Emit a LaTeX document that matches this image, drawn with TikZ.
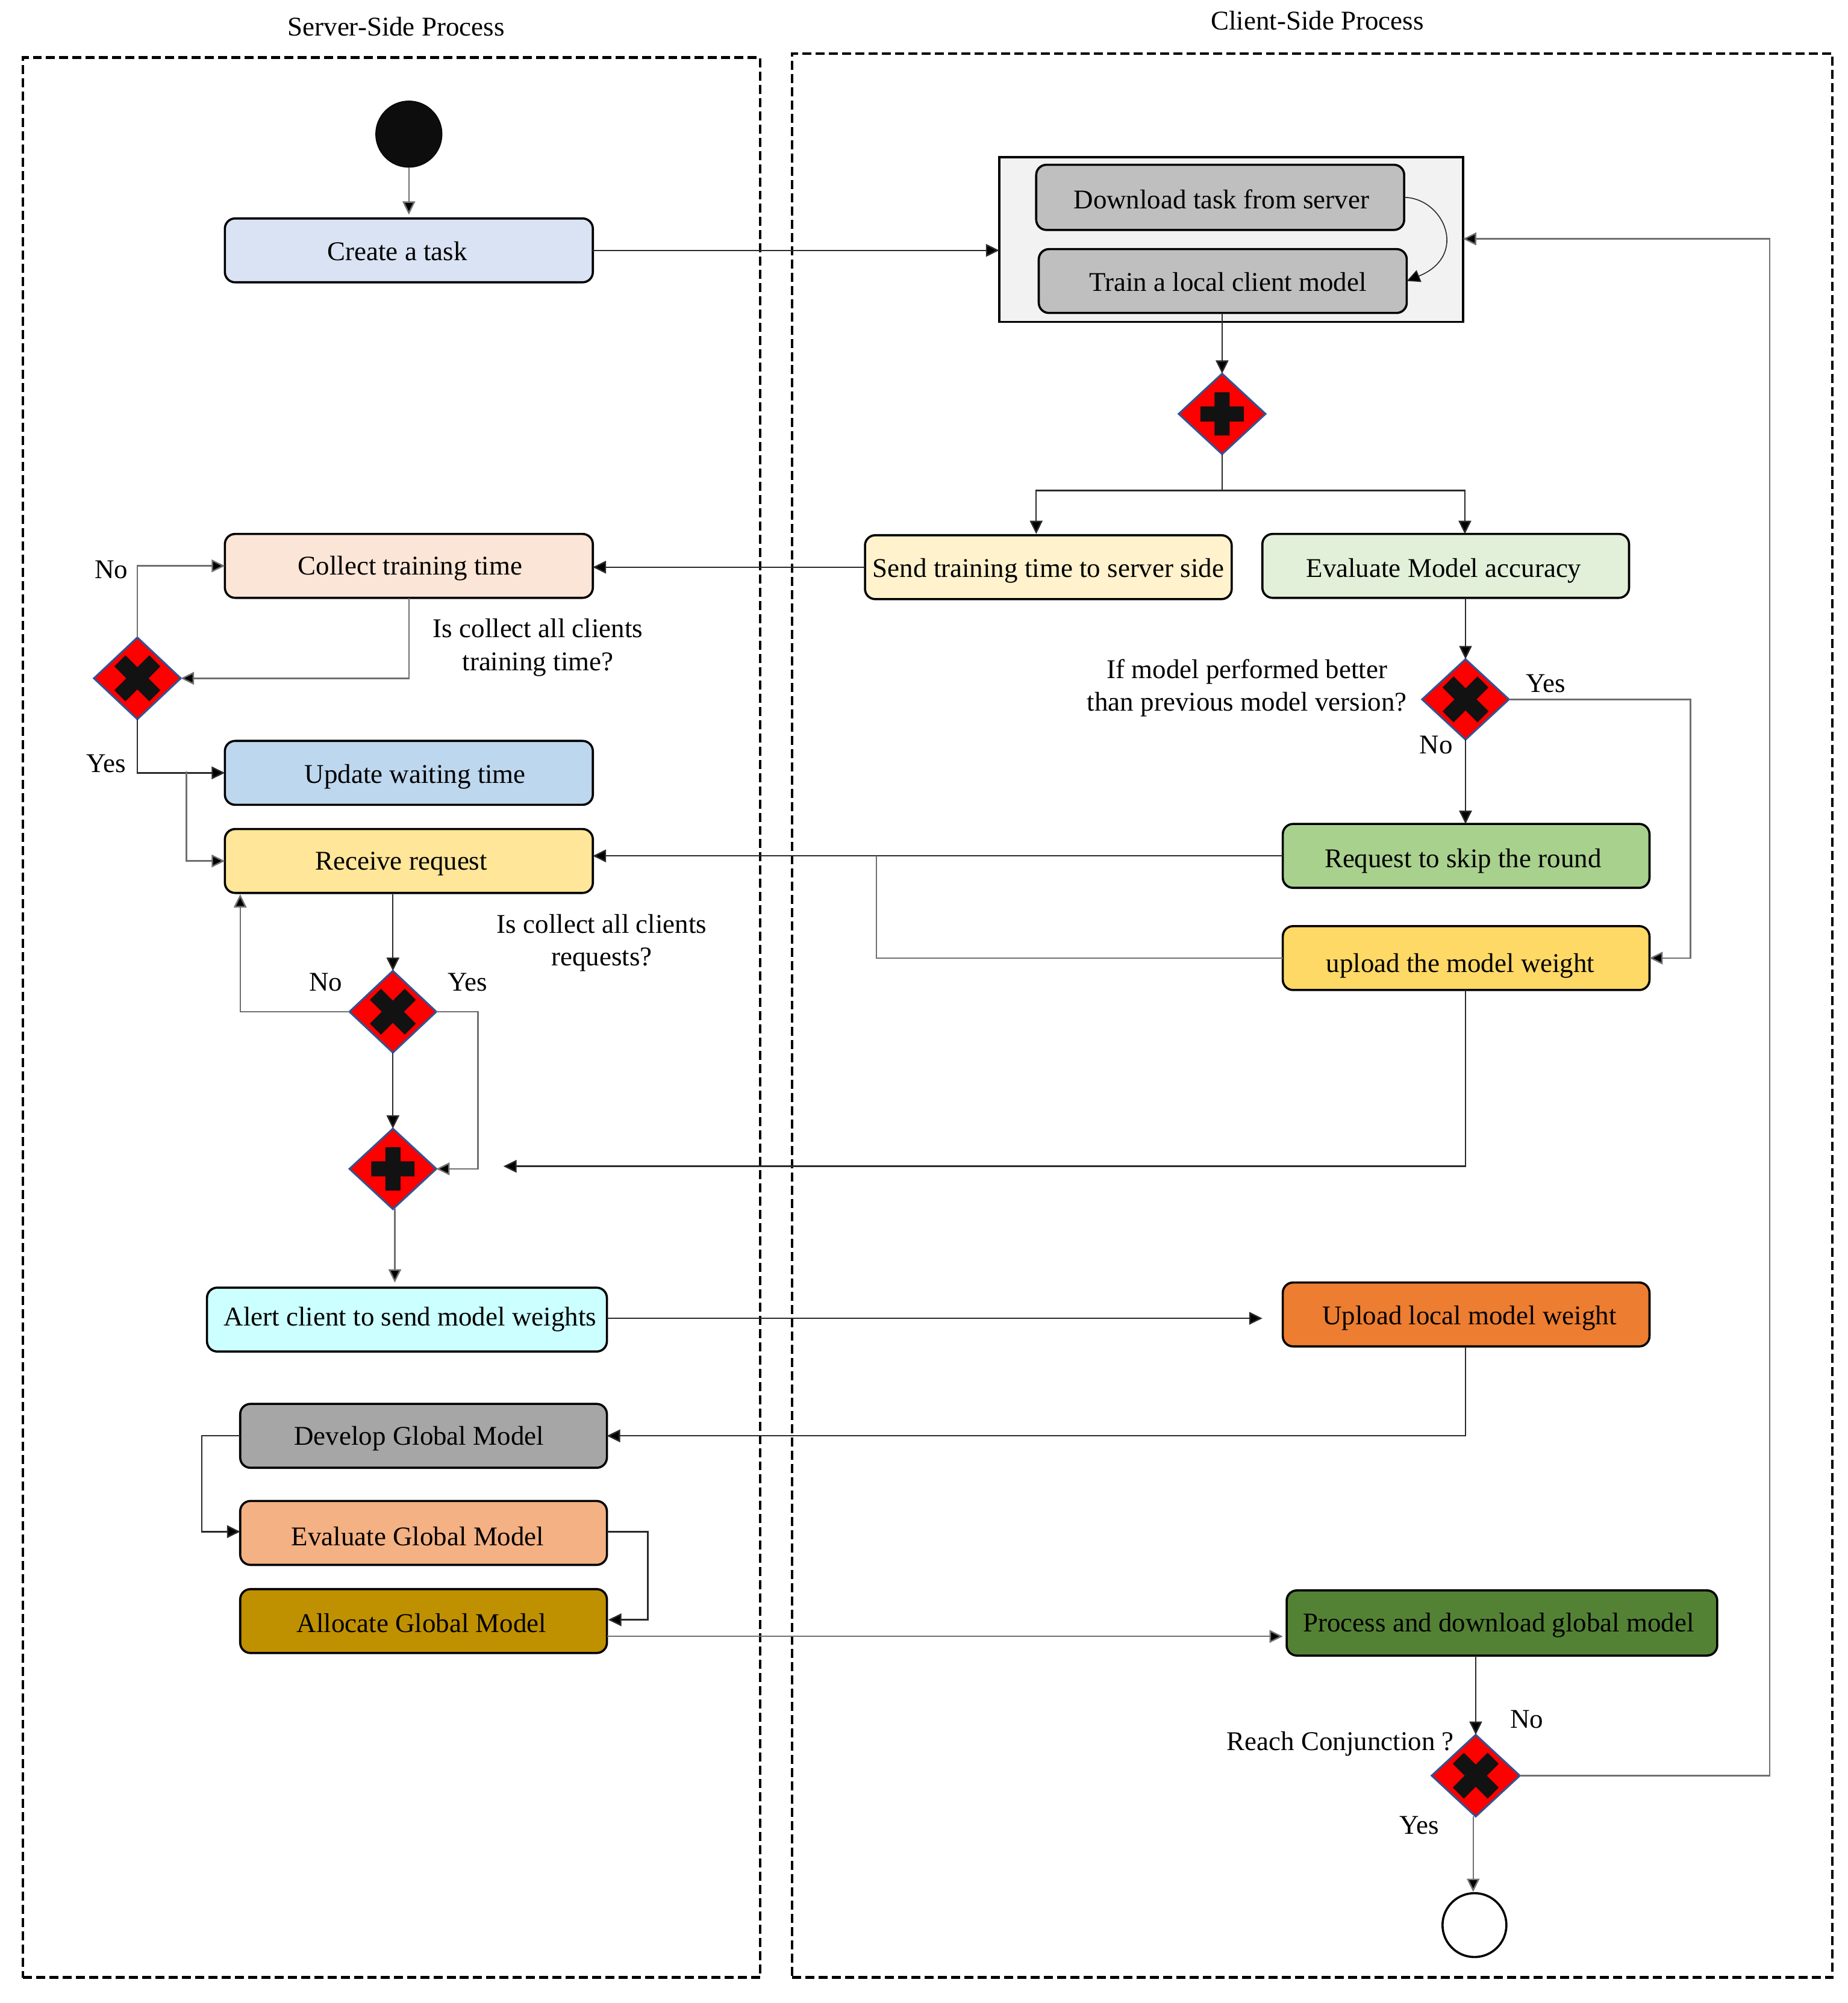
\documentclass[tikz,border=0pt]{standalone}
\usepackage{fontspec}
\setmainfont{Liberation Serif}
\usetikzlibrary{shapes.geometric,arrows.meta,calc}
\definecolor{conn}{HTML}{2A2A2A}
\definecolor{connlight}{HTML}{707070}
\definecolor{gateline}{HTML}{2F5597}
\definecolor{cgrey}{HTML}{BFBFBF}
\definecolor{ccreate}{HTML}{DAE3F3}
\definecolor{csend}{HTML}{FFF2CC}
\definecolor{ceval}{HTML}{E2F0D9}
\definecolor{ccollect}{HTML}{FBE5D6}
\definecolor{cupdate}{HTML}{BDD7EE}
\definecolor{creceive}{HTML}{FFE699}
\definecolor{cskip}{HTML}{A9D18E}
\definecolor{cweight}{HTML}{FFD966}
\definecolor{calert}{HTML}{CCFFFF}
\definecolor{clocal}{HTML}{ED7D31}
\definecolor{cdevelop}{HTML}{A6A6A6}
\definecolor{cevalg}{HTML}{F4B183}
\definecolor{calloc}{HTML}{BF9000}
\definecolor{cprocess}{HTML}{548235}
\newlength{\ux}\setlength{\ux}{2.1232pt}
\newcommand{\sh}[3]{\kern#1\dimexpr 2\ux\relax\raisebox{\dimexpr-#2\ux-1.8\ux\relax}[0pt][0pt]{#3}}
\tikzset{
  sized/.style 2 args={minimum width=#1*2.1232pt,minimum height=#2*2.1232pt},
  box/.style={draw=black,line width=3.6pt,rounded corners=17pt,fill=#1,inner sep=0pt,outer sep=0pt,
    text height=32pt,text depth=10pt,font=\fontsize{45}{54}\selectfont},
  panel/.style={draw=black,line width=4.5pt,dash pattern=on 15pt off 7pt,inner sep=0pt,outer sep=0pt},
  gate/.style={diamond,draw=gateline,line width=3pt,fill=red,inner sep=0pt,outer sep=0pt},
  lab/.style={inner sep=0pt,align=center,font=\fontsize{45}{54.5}\selectfont},
  line/.style={draw=conn,line width=2.4pt,-{Triangle[length=22pt,width=21pt,fill=black]}},
  plain/.style={draw=conn,line width=2.4pt},
  pale/.style={draw=connlight,line width=2.4pt,-{Triangle[length=22pt,width=21pt,fill=black]}},
  plusmark/.pic={\fill[black!93] (-36pt,-12.5pt) rectangle (36pt,12.5pt) (-12.5pt,-36pt) rectangle (12.5pt,36pt);},
  crossmark/.pic={\fill[black!93,rotate=45] (-41pt,-13pt) rectangle (41pt,13pt) (-13pt,-41pt) rectangle (13pt,41pt);}
}
\begin{document}
\begin{tikzpicture}[x=2.1232pt,y=-2.1232pt]
\useasboundingbox (0,0) rectangle (1446,1568);
\fill[white] (0,0) rectangle (1446,1568);
% panels
\node[panel,sized={577}{1503}] (serverpanel) at (306.5,796.5) {};
\node[panel,sized={814}{1506}] (clientpanel) at (1027,795) {};
\node[lab] (servertitle) at (310,21) {Server-Side Process};
\node[lab] (clienttitle) at (1031,16) {Client-Side Process};
% terminals
\node[circle,fill=black!95,draw=black,line width=1pt,minimum size=52*2.1232pt,inner sep=0pt,outer sep=0pt] (start) at (320,105) {};
\node[circle,fill=white,draw=black,line width=3.6pt,minimum size=50*2.1232pt,inner sep=0pt,outer sep=0pt] (stop) at (1154,1507) {};
% container
\node[draw=black,line width=3.6pt,fill=black!5,sized={363}{129},inner sep=0pt,outer sep=0pt] (container) at (963.5,187.5) {};
% boxes
\node[box=cgrey,sized={288}{51}] (download) at (955,154.5) {\sh{1}{2}{Download task from server}};
\node[box=cgrey,sized={288}{50}] (train) at (957,220) {\sh{4}{1}{Train a local client model}};
\node[box=ccreate,sized={288}{50}] (create) at (320,196) {\sh{-9}{1}{Create a task}};
\node[box=csend,sized={287}{50}] (send) at (820.5,444) {\sh{0}{1}{Send training time to server side}};
\node[box=ceval,sized={287}{50}] (evalmodel) at (1131.5,443) {\sh{-1.5}{2}{Evaluate Model accuracy}};
\node[box=ccollect,sized={288}{50}] (collect) at (320,443) {\sh{1}{0}{Collect training time}};
\node[box=cupdate,sized={288}{50}] (update) at (320,605) {\sh{5}{1}{Update waiting time}};
\node[box=creceive,sized={288}{50}] (receive) at (320,674) {\sh{-6}{0}{Receive request}};
\node[box=cskip,sized={287}{50}] (skip) at (1147.5,670) {\sh{-2.5}{2}{Request to skip the round}};
\node[box=cweight,sized={287}{50}] (uploadweight) at (1147.5,750) {\sh{-4.5}{4}{upload the model weight}};
\node[box=calert,sized={313}{50}] (alert) at (318.5,1033) {\sh{2.5}{-2}{Alert client to send model weights}};
\node[box=clocal,sized={287}{50}] (uploadlocal) at (1147.5,1029) {\sh{2.5}{1}{Upload local model weight}};
\node[box=cdevelop,sized={287}{50}] (develop) at (331.5,1124) {\sh{-3.5}{0}{Develop Global Model}};
\node[box=cevalg,sized={287}{50}] (evalglobal) at (331.5,1200) {\sh{-4.5}{3}{Evaluate Global Model}};
\node[box=calloc,sized={287}{50}] (allocate) at (331.5,1269) {\sh{-1.5}{2}{Allocate Global Model}};
\node[box=cprocess,sized={337}{51}] (process) at (1175.5,1270.5) {\sh{-2.5}{0}{Process and download global model}};
% gateways
\node[gate,sized={68}{63}] (plusa) at (956.5,324) {};
\node[gate,sized={68}{64}] (crossa) at (107.5,531) {};
\node[gate,sized={68}{63}] (crossb) at (1147,547.5) {};
\node[gate,sized={68}{64}] (crossc) at (307.5,792) {};
\node[gate,sized={68}{63}] (plusb) at (307.5,915) {};
\node[gate,sized={69}{64}] (crossd) at (1155,1390) {};
\pic at (plusa) {plusmark};
\pic at (plusb) {plusmark};
\pic at (crossa) {crossmark};
\pic at (crossb) {crossmark};
\pic at (crossc) {crossmark};
\pic at (crossd) {crossmark};
% free ends
\coordinate (branch) at (146,604);
\coordinate (freetip) at (394,913);
\coordinate (alerttip) at (988,1032);
\coordinate (alertout) at (475,1032);
\coordinate (alloctip) at (1004,1281);
\coordinate (allocout) at (475,1281);
\coordinate (splitpt) at (956.5,384);
\coordinate (sendin) at (811,418);
\coordinate (evalin) at (1146.5,418);
\coordinate (merge) at (686,670);
\coordinate (containerin) at (1145,187);
\coordinate (returnright) at (1385,1390);
\coordinate (returntop) at (1385,187);
\coordinate (yesright) at (1323,547.5);
\coordinate (yesdown) at (1323,750);
\coordinate (crossoutr) at (374,792);
\coordinate (crossoutb) at (374,915);
\coordinate (nocorner) at (188,792);
\coordinate (notip) at (188,700);
\coordinate (devl) at (158,1124);
\coordinate (devb) at (158,1199);
\coordinate (evalin2) at (188,1199);
\coordinate (evalout) at (475,1199);
\coordinate (evalr) at (507,1199);
\coordinate (allocr) at (507,1268);
\coordinate (allocin) at (476,1268);
\coordinate (starttip) at (320,168);
\coordinate (recvout) at (307.5,700);
\coordinate (alertin) at (309,1004);
\coordinate (plusout) at (309,946);
\coordinate (stopout) at (1153,1422);
\coordinate (stopin) at (1153,1481);
% connectors
\draw[pale] (start) -- (starttip);
\draw[line] (create.east) -- (create.east -| container.west);
\draw[line,line width=1.6pt] (download.east) .. controls (1130,155) and (1150,200) .. (train.east);
\draw[line] (train.south -| plusa) -- (plusa.north);
\draw[plain] (plusa.south) -- (splitpt);
\draw[line] (splitpt) -| (sendin);
\draw[line] (splitpt) -| (evalin);
\draw[line] (send.west) -- (send.west -| collect.east);
\draw[pale] (collect.south) |- (crossa.east);
\draw[pale] (crossa.north) |- (collect.west);
\draw[line] (crossa.south) |- (update.west);
\draw[pale] (branch) |- (receive.west);
\draw[line] (recvout) -- (crossc.north);
\draw[pale] (crossc.west) -- (nocorner) -- (notip);
\draw[pale] (crossc.east) -- (crossoutr) -- (crossoutb) -- (plusb.east);
\draw[line] (crossc.south) -- (plusb.north);
\draw[pale] (plusout) -- (alertin);
\draw[line] (alertout) -- (alerttip);
\draw[line] (evalmodel.south -| crossb) -- (crossb.north);
\draw[line] (crossb.south) -- (skip.north -| crossb);
\draw[pale] (crossb.east) -- (yesright) -- (yesdown) -- (uploadweight.east);
\draw[line] (skip.west) -- (skip.west -| receive.east);
\draw[plain,draw=connlight] (uploadweight.west) -| (merge);
\draw[line] (uploadweight.south -| crossb) |- (freetip);
\draw[line] (uploadlocal.south -| crossb) |- (develop.east);
\draw[line] (develop.west) -- (devl) -- (devb) -- (evalin2);
\draw[line] (evalout) -- (evalr) -- (allocr) -- (allocin);
\draw[pale] (allocout) -- (alloctip);
\draw[line] (process.south -| crossd) -- (crossd.north);
\draw[pale] (crossd.east) -- (returnright) -- (returntop) -- (containerin);
\draw[pale] (stopout) -- (stopin);
% labels
\node[lab] (no1) at (87,446) {No};
\node[lab] (yes1) at (83,598) {Yes};
\node[lab] (q1) at (421,507) {Is collect all clients\\training time?};
\node[lab] (q2) at (471,738) {Is collect all clients\\requests?};
\node[lab] (no2) at (255,769) {No};
\node[lab] (yes2) at (366,769) {Yes};
\node[lab] (q3) at (976,538.5) {If model performed better\\than previous model version?};
\node[lab] (yes3) at (1210,535) {Yes};
\node[lab] (no3) at (1124,583) {No};
\node[lab] (no4) at (1195,1346) {No};
\node[lab] (q4) at (1049,1365) {Reach Conjunction ?};
\node[lab] (yes4) at (1111,1429) {Yes};
\end{tikzpicture}
\end{document}
